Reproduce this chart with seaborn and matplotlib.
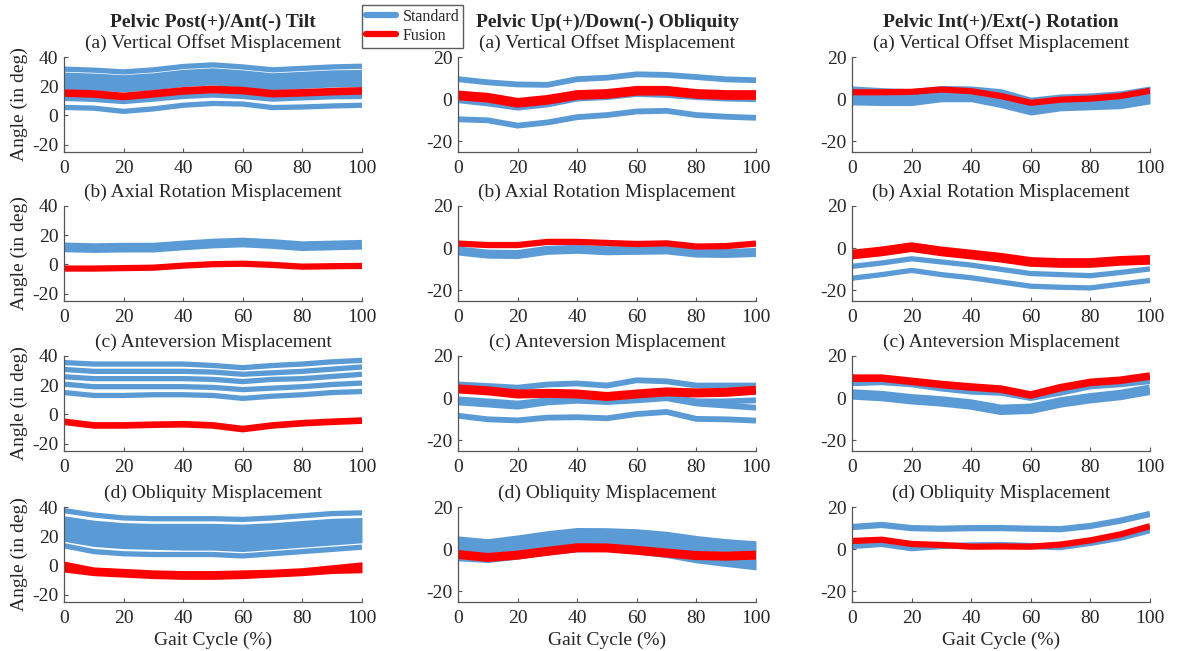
import matplotlib
matplotlib.use("Agg")
import pandas as pd
import matplotlib.pyplot as plt
from matplotlib.lines import Line2D
import seaborn as sns

# Общая ось X: процент цикла шага
GAIT = [0, 10, 20, 30, 40, 50, 60, 70, 80, 90, 100]

COLUMN_TITLES = ["Pelvic Post(+)/Ant(-) Tilt",
                 "Pelvic Up(+)/Down(-) Obliquity",
                 "Pelvic Int(+)/Ext(-) Rotation"]
ROW_TITLES = ["(a) Vertical Offset Misplacement",
              "(b) Axial Rotation Misplacement",
              "(c) Anteversion Misplacement",
              "(d) Obliquity Misplacement"]
GROUPS = ["Standard", "Fusion"]
Y_TICKS = [[-20, 0, 20, 40], [-20, 0, 20], [-20, 0, 20]]
X_TICKS = [0, 20, 40, 60, 80, 100]

# --- Tilt ---
tilt_a_std_top = [31.7, 31, 29.8, 31.2, 33.5, 34.6, 33.2, 31.2, 32.2, 33.2, 33.7]
tilt_a_std_2 = [27, 26.3, 25.2, 26.5, 28.8, 29.9, 28.5, 26.5, 27.5, 28.5, 28.8]
tilt_a_std_3 = [23.5, 22.8, 21.7, 23, 25.3, 26.4, 25, 23, 24, 25, 25.3]
tilt_a_std_4 = [20, 19.3, 18.2, 19.5, 21.8, 22.9, 21.5, 19.5, 20.5, 21.5, 21.6]
tilt_a_std_5 = [11.7, 11, 9.5, 11.2, 13, 14, 13, 11.2, 12, 12.8, 13]
tilt_a_std_low = [5.5, 5, 2.8, 4.5, 7, 8.2, 7.8, 5.4, 5.8, 6.5, 7]
tilt_a_fus = [15.3, 14.7, 13, 14.8, 16.8, 17.8, 17, 14.9, 15.5, 16.3, 16.8]

tilt_b_std = [11.7, 11.2, 11.5, 11.5, 13, 14.3, 15, 14, 12.5, 13, 13.5]
tilt_b_fus = [-2.8, -2.8, -2.5, -2.2, -0.8, 0.2, 0.5, -0.3, -1.5, -1.2, -1]

tilt_c_std_1 = [35.5, 34.5, 34.5, 34.5, 34.5, 33.5, 32, 33.5, 34.5, 36, 37]
tilt_c_std_2 = [30.8, 29.5, 29.5, 29.5, 29.5, 29, 27.5, 28.5, 29.5, 31, 32.5]
tilt_c_std_3 = [25.8, 24.5, 24.5, 24.5, 24.5, 24, 22.5, 24, 24.5, 26, 27.5]
tilt_c_std_4 = [20.7, 19, 19, 19, 19, 18.5, 17, 18, 19, 20.5, 21.5]
tilt_c_std_5 = [15, 13, 13, 13.5, 13.5, 13, 11, 12.5, 13.5, 15, 15.7]
tilt_c_fus = [-5, -7.5, -7.5, -7, -6.7, -7.5, -10, -7.5, -6, -5, -4.2]

tilt_d_std_top = [37.5, 34.5, 32.5, 32, 32, 32, 31.5, 32.5, 34, 35.5, 36]
tilt_d_std_upper = [34, 31, 29.3, 28.8, 28.8, 28.8, 28.3, 29.3, 30.8, 32.3, 32.8]
tilt_d_std_lower = [16.5, 13, 11.5, 11, 10.5, 10.5, 9.5, 11, 12.5, 14, 15.5]
tilt_d_std_low = [13.5, 9.5, 8, 7.5, 7.5, 7.5, 6.5, 8, 9.5, 11, 12.5]
tilt_d_fus_upper = [3, -1, -2, -3, -3.5, -3.5, -3, -2.5, -1.5, 0.5, 2.5]
tilt_d_fus_lower = [-4.5, -7, -8, -9, -9.5, -9.5, -9, -8, -7, -5.5, -5]

# --- Obliquity ---
obl_a_std_top = [9.5, 8, 7, 6.8, 9.5, 10.2, 11.8, 11.5, 10.5, 9.4, 9]
obl_a_std_mid = [-0.5, -2, -4, -2.5, 0.3, 1, 2.5, 2, 1, 0.3, 0]
obl_a_std_low = [-9.5, -10, -12.5, -11, -8.5, -7.5, -5.8, -5.5, -7.5, -8.3, -8.8]
obl_a_fus = [1.8, 0.7, -1.7, -0.3, 2, 2.5, 4, 4, 2.5, 2, 2]

obl_b_std = [-1.3, -2.8, -3, -1, -0.5, -1.2, -1, -0.8, -2.3, -2.5, -2]
obl_b_fus = [2.2, 1.5, 1.5, 3, 3, 2.5, 2, 2.3, 0.8, 1, 2.2]

obl_c_std_top = [6.5, 5.8, 5, 6.5, 7, 6, 8.5, 8, 6, 6, 6]
obl_c_std_mid1 = [-0.5, -1.5, -2.5, -1, -0.8, -1.5, -0.5, 1, -1.5, -1.5, -1]
obl_c_std_mid2 = [-2, -3, -4, -2, -1.2, -1.8, -1, 0, -2.5, -3.5, -4.5]
obl_c_std_low = [-8.3, -10, -10.5, -9.2, -9, -9.5, -7.5, -6.5, -9.8, -10, -10.6]
obl_c_fus = [4.4, 3.5, 2, 2.3, 2, 0.8, 2, 3, 2.5, 2.8, 3.8]

obl_d_std_upper = [6.3, 5, 6.8, 8.8, 10.3, 10.2, 9.7, 8.5, 6.5, 5, 4]
obl_d_std_lower = [-5.5, -6.3, -4.7, -2.7, -1.3, -1, -2.3, -4, -6.5, -8.2, -9.8]
obl_d_fus = [-2.5, -3.9, -2.8, -1, 0.7, 0.6, -0.5, -1.8, -3, -3.3, -2.8]

# --- Rotation ---
rot_a_std_upper = [6.3, 5.5, 5, 6.5, 6.3, 5, 1, 2.5, 3, 4, 6.3]
rot_a_std_lower = [-2.7, -3, -3, -1.2, -1.2, -4, -7.5, -5.5, -5, -4.5, -2.2]
rot_a_fus = [3.3, 3.3, 3.5, 4.6, 3.8, 1.5, -1.7, -0.2, 0.3, 1.5, 4]

rot_b_std_1 = [-8.6, -7, -5, -6.5, -8, -10, -12, -12.5, -13, -11.5, -9.8]
rot_b_std_2 = [-14.2, -12.5, -10.5, -12.5, -14, -16, -18, -18.5, -18.8, -17, -15.3]
rot_b_fus = [-3, -1.5, 0.5, -1.5, -3, -4.5, -6.5, -7, -7, -6, -5.5]

rot_c_std_top = [7, 7.5, 6.5, 4.5, 3, 2.5, 0, 2.5, 5.5, 6.5, 8]
rot_c_std_low = [1.8, 1, -0.5, -1.5, -3, -5.5, -5, -2, 0, 1.5, 4]
rot_c_fus = [9.5, 9.5, 8, 6.5, 5.3, 4.3, 1.5, 5, 7.5, 8.5, 10.5]

rot_d_std_top = [10.5, 11.5, 10, 9.7, 10, 10, 9.7, 9.5, 11, 13.5, 16.7]
rot_d_std_low = [1.5, 2.5, 0.5, 1.5, 1.8, 2, 1.5, 1, 3, 5.4, 9]
rot_d_fus = [3.9, 4.5, 2.5, 2, 1.2, 1.3, 1.2, 2.2, 4.2, 7, 10.9]

BLUE = "#5B9BD5"
RED = "#FF0000"
AXIS_COLOR = "#555555"
FS = 14

# Стиль в духе MATLAB
sns.set_style("ticks")
plt.rcParams['font.family'] = ['Liberation Serif', 'DejaVu Serif']
plt.rcParams['font.size'] = FS
plt.rcParams['axes.unicode_minus'] = False
plt.rcParams['xtick.direction'] = 'in'
plt.rcParams['ytick.direction'] = 'in'

# (row, col) -> линии / полосы со стилем
panels = {
    (0, 0): {"std": [(tilt_a_std_top, 3.8), (tilt_a_std_2, 5.0), (tilt_a_std_3, 5.0),
                     (tilt_a_std_4, 5.0), (tilt_a_std_5, 3.8), (tilt_a_std_low, 3.8)],
             "fus": [(tilt_a_fus, 5.5)]},
    (1, 0): {"std": [(tilt_b_std, 7.0)], "fus": [(tilt_b_fus, 4.5)]},
    (2, 0): {"std": [(tilt_c_std_1, 3.8), (tilt_c_std_2, 3.8), (tilt_c_std_3, 3.8),
                     (tilt_c_std_4, 3.8), (tilt_c_std_5, 3.8)],
             "fus": [(tilt_c_fus, 4.8)]},
    (3, 0): {"std_band": [(tilt_d_std_upper, tilt_d_std_lower)],
             "std": [(tilt_d_std_top, 3.8), (tilt_d_std_low, 3.8)],
             "fus_band": [(tilt_d_fus_upper, tilt_d_fus_lower)], "fus": []},
    (0, 1): {"std": [(obl_a_std_top, 4.2), (obl_a_std_mid, 4.2), (obl_a_std_low, 4.2)],
             "fus": [(obl_a_fus, 7.0)]},
    (1, 1): {"std": [(obl_b_std, 6.5)], "fus": [(obl_b_fus, 4.5)]},
    (2, 1): {"std": [(obl_c_std_top, 4.2), (obl_c_std_mid1, 4.2), (obl_c_std_mid2, 4.2),
                     (obl_c_std_low, 4.2)],
             "fus": [(obl_c_fus, 6.5)]},
    (3, 1): {"std_band": [(obl_d_std_upper, obl_d_std_lower)], "std": [],
             "fus": [(obl_d_fus, 6.5)]},
    (0, 2): {"std_band": [(rot_a_std_upper, rot_a_std_lower)], "std": [],
             "fus": [(rot_a_fus, 4.5)]},
    (1, 2): {"std": [(rot_b_std_1, 3.8), (rot_b_std_2, 3.8)], "fus": [(rot_b_fus, 7.0)]},
    (2, 2): {"std": [(rot_c_std_top, 4.0), (rot_c_std_low, 7.5)], "fus": [(rot_c_fus, 5.5)]},
    (3, 2): {"std": [(rot_d_std_top, 4.5), (rot_d_std_low, 4.5)], "fus": [(rot_d_fus, 4.5)]},
}

lefts = [64 / 1179, 458 / 1179, 852 / 1179]
width = 298 / 1179
tops_px = [57, 206, 356, 507]
height = 95 / 651
ylims = [(-25, 40), (-25, 20), (-25, 20)]

fig = plt.figure(figsize=(11.79, 6.51), dpi=100)

for (r, c), spec in panels.items():
    bottom = 1 - (tops_px[r] + 95) / 651
    ax = fig.add_axes([lefts[c], bottom, width, height])

    for upper, lower in spec.get("std_band", []):
        ax.fill_between(GAIT, lower, upper, color=BLUE, lw=0)
    for ys, lw in spec["std"]:
        df = pd.DataFrame({"gait": GAIT, "angle": ys})
        sns.lineplot(data=df, x="gait", y="angle", color=BLUE, linewidth=lw,
                     estimator=None, ax=ax, solid_capstyle="butt")
    for upper, lower in spec.get("fus_band", []):
        ax.fill_between(GAIT, lower, upper, color=RED, lw=0)
    for ys, lw in spec["fus"]:
        df = pd.DataFrame({"gait": GAIT, "angle": ys})
        sns.lineplot(data=df, x="gait", y="angle", color=RED, linewidth=lw,
                     estimator=None, ax=ax, solid_capstyle="butt")

    ax.set_xlim(0, 100)
    ax.set_ylim(*ylims[c])
    ax.set_xticks(X_TICKS)
    ax.set_yticks(Y_TICKS[c])
    ax.tick_params(length=3, width=0.8, colors=AXIS_COLOR, labelcolor="#262626",
                   labelsize=FS)
    ax.tick_params(axis="x", pad=6)
    ax.tick_params(axis="y", pad=4)
    for side in ["top", "right"]:
        ax.spines[side].set_visible(False)
    for side in ["left", "bottom"]:
        ax.spines[side].set_color(AXIS_COLOR)
        ax.spines[side].set_linewidth(0.9)

    ax.text(0.5, 1 + 14 / 95, ROW_TITLES[r], transform=ax.transAxes,
            ha="center", va="center", fontsize=FS)
    ax.set_xlabel("Gait Cycle (%)" if r == 3 else "", fontsize=FS, labelpad=3)
    ax.set_ylabel("Angle (in deg)" if c == 0 else "", fontsize=FS, labelpad=3)

for c, title in enumerate(COLUMN_TITLES):
    fig.text(lefts[c] + width / 2, 1 - 22 / 651, title, ha="center", va="center",
             fontsize=FS, fontweight="bold")

handles = [Line2D([0], [0], color=BLUE, lw=4.5), Line2D([0], [0], color=RED, lw=4.5)]
fig.legend(handles, GROUPS, loc="upper left", bbox_to_anchor=(0.307, 0.993),
           fontsize=11.5, frameon=True, fancybox=False, edgecolor="#333333",
           handlelength=1.9, handletextpad=0.4, borderpad=0.25, labelspacing=0.2,
           borderaxespad=0)

fig.savefig("out.png", dpi=100)
